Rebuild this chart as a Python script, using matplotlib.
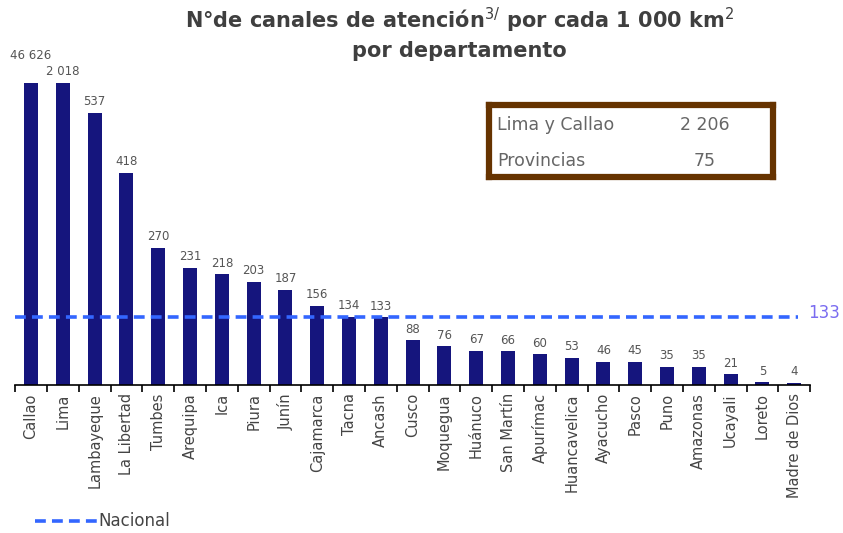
import matplotlib.pyplot as plt
import numpy as np

# Canales de atención por cada 1 000 km2, por departamento
departamentos = ["Callao", "Lima", "Lambayeque", "La Libertad", "Tumbes", "Arequipa",
                 "Ica", "Piura", "Junín", "Cajamarca", "Tacna", "Ancash", "Cusco",
                 "Moquegua", "Huánuco", "San Martín", "Apurímac", "Huancavelica",
                 "Ayacucho", "Pasco", "Puno", "Amazonas", "Ucayali", "Loreto",
                 "Madre de Dios"]
valores = [46626, 2018, 537, 418, 270, 231, 218, 203, 187, 156, 134, 133, 88,
           76, 67, 66, 60, 53, 46, 45, 35, 35, 21, 5, 4]
nacional = 133
resumen_nombres = ["Lima y Callao", "Provincias"]
resumen_valores = [2206, 75]
tope = 596  # altura maxima dibujada (eje cortado)

def fmt(v):
    return f"{v:,}".replace(",", " ")

fig = plt.figure(figsize=(8.43, 5.33), dpi=100)
ax = fig.add_axes([0.018, 0.278, 0.943, 0.63])

x = np.arange(len(valores))
alturas = [min(v, tope) for v in valores]
ax.bar(x, alturas, width=0.44, color="#15157d", zorder=2)
for i, (xi, h, v) in enumerate(zip(x, alturas, valores)):
    extra = 32 if i == 0 else 0
    ax.text(xi, h + 22 + extra, fmt(v), ha="center", va="center", fontsize=8.5,
            color="#555555")

ax.axhline(nacional, xmin=0, xmax=0.985, color="#3366ff", lw=2.6, ls=(0, (3, 1.7)), zorder=3)
ax.text(24.45, nacional + 8, str(nacional), ha="left", va="center", fontsize=12,
        color="#7a6cf0")

ax.set_xlim(-0.5, 24.5)
ax.set_ylim(0, 663)
for s in ["top", "right", "left"]:
    ax.spines[s].set_visible(False)
ax.spines["bottom"].set_linewidth(1.2)
ax.set_yticks([])
ax.set_xticks(x)
ax.set_xticklabels(departamentos, rotation=90, fontsize=10.5, color="#444444")
ax.tick_params(axis="x", which="major", length=0, pad=6)
ax.set_xticks(np.arange(-0.5, 25, 1), minor=True)
ax.tick_params(axis="x", which="minor", length=5, width=1.2, direction="out")

fig.text(0.545, 0.962, "N°de canales de atención$^{3/}$ por cada 1 000 km$^{2}$",
         ha="center", va="center", fontsize=15, fontweight="bold", color="#3f3f3f")
fig.text(0.545, 0.905, "por departamento", ha="center", va="center",
         fontsize=15, fontweight="bold", color="#3f3f3f")

# recuadro de resumen
caja = fig.add_axes([0.58, 0.668, 0.337, 0.135])
caja.set_xticks([])
caja.set_yticks([])
for s in caja.spines.values():
    s.set_color("#663300")
    s.set_linewidth(4.5)
for i, (n, v) in enumerate(zip(resumen_nombres, resumen_valores)):
    yy = 0.72 - i * 0.5
    caja.text(0.03, yy, n, ha="left", va="center", fontsize=12.5, color="#666666",
              transform=caja.transAxes)
    caja.text(0.76, yy, fmt(v), ha="center", va="center", fontsize=12.5, color="#666666",
              transform=caja.transAxes)

# leyenda
fig.lines.append(plt.Line2D([0.042, 0.115], [0.022, 0.022], transform=fig.transFigure,
                            color="#3366ff", lw=2.6, ls=(0, (3, 1.7))))
fig.text(0.117, 0.022, "Nacional", ha="left", va="center", fontsize=12, color="#444444")

fig.savefig("out.png", dpi=100)
